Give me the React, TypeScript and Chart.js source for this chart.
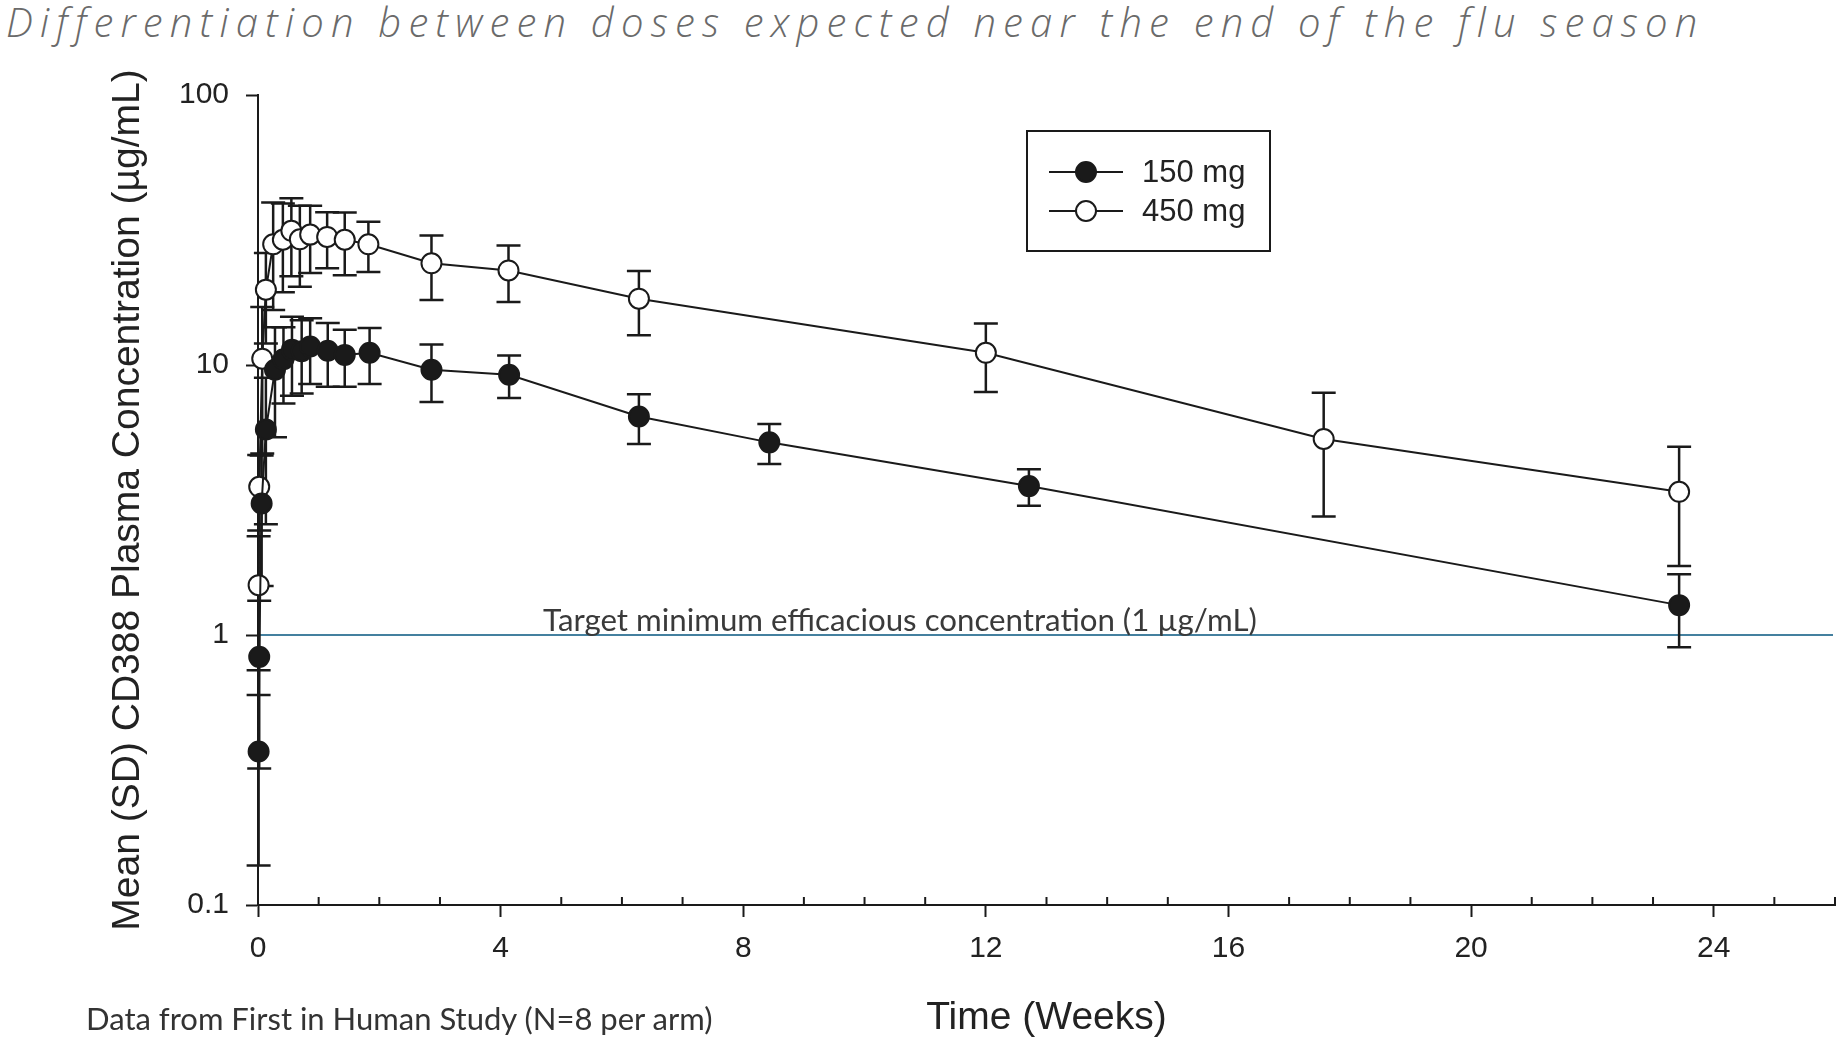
import React, { useEffect, useRef } from "react";
import { Chart, registerables } from "chart.js";

Chart.register(...registerables);

// ---- data ----
const weeks150 = [0.01, 0.02, 0.06, 0.13, 0.28, 0.42, 0.56, 0.72, 0.86, 1.15, 1.43, 1.84, 2.86, 4.14, 6.28, 8.43, 12.71, 23.43];
const mean150 = [0.37, 0.83, 3.07, 5.77, 9.6, 10.5, 11.4, 11.25, 11.7, 11.3, 10.9, 11.1, 9.6, 9.2, 6.45, 5.17, 3.56, 1.29];
const sd150 = [0.23, 0.51, 1.55, 3.2, 4.2, 3.3, 3.7, 3.4, 3.2, 3.0, 2.6, 2.6, 2.3, 1.65, 1.35, 0.87, 0.55, 0.39];

const weeks450 = [0.01, 0.02, 0.07, 0.13, 0.25, 0.41, 0.55, 0.69, 0.86, 1.14, 1.43, 1.82, 2.86, 4.13, 6.28, 12.0, 17.57, 23.43];
const mean450 = [1.53, 3.54, 10.55, 19.0, 28.0, 29.1, 31.4, 29.2, 30.4, 29.8, 29.1, 28.0, 23.8, 22.4, 17.6, 11.1, 5.32, 3.39];
const sd450 = [0.79, 1.1, 5.85, 7.0, 12.0, 10.5, 10.1, 9.7, 8.5, 7.0, 7.6, 5.9, 6.4, 5.3, 4.7, 3.15, 2.57, 1.59];

const seriesLabels = ["150 mg", "450 mg"];
const yTickValues = [0.1, 1, 10, 100];
const yTickLabels = ["0.1", "1", "10", "100"];
const xMajorEvery = 4;
const xMin = 0;
const xMax = 26;
const targetConc = 1;
const targetLabel = "Target minimum efficacious concentration (1 µg/mL)";
const titleText = "Differentiation between doses expected near the end of the flu season";
const footText = "Data from First in Human Study (N=8 per arm)";
const yTitle = "Mean (SD) CD388 Plasma Concentration (µg/mL)";
const xTitle = "Time (Weeks)";

const INK = "#1a1a1a";

const errorBarPlugin = {
  id: "errorBars",
  beforeDatasetsDraw(chart: any) {
    const { ctx, scales, chartArea } = chart;
    const xs = scales.x;
    const ys = scales.y;
    // target line + label
    const yT = ys.getPixelForValue(targetConc);
    ctx.save();
    ctx.strokeStyle = "#44809f";
    ctx.lineWidth = 2;
    ctx.beginPath();
    ctx.moveTo(chartArea.left, yT);
    ctx.lineTo(chartArea.right - 2, yT);
    ctx.stroke();
    let fs = 29;
    ctx.font = `${fs}px Lato, "Open Sans", sans-serif`;
    const w = ctx.measureText(targetLabel).width;
    fs = (fs * 714) / w;
    ctx.font = `${fs}px Lato, "Open Sans", sans-serif`;
    ctx.fillStyle = "#3a3a3a";
    ctx.textBaseline = "alphabetic";
    ctx.textAlign = "left";
    ctx.fillText(targetLabel, 543, yT - 4);
    ctx.restore();

    chart.data.datasets.forEach((ds: any, i: number) => {
      const meta = chart.getDatasetMeta(i);
      if (meta.hidden) return;
      ctx.save();
      ctx.strokeStyle = INK;
      ctx.lineWidth = 2.5;
      ds.data.forEach((p: any, j: number) => {
        const sd = ds.sd[j];
        const x = xs.getPixelForValue(p.x);
        const yTop = ys.getPixelForValue(p.y + sd);
        const yBot = ys.getPixelForValue(Math.max(p.y - sd, 0.0001));
        ctx.beginPath();
        ctx.moveTo(x, yTop);
        ctx.lineTo(x, yBot);
        ctx.moveTo(x - 12, yTop);
        ctx.lineTo(x + 12, yTop);
        ctx.moveTo(x - 12, yBot);
        ctx.lineTo(x + 12, yBot);
        ctx.stroke();
      });
      ctx.restore();
    });
  },
  afterDraw(chart: any) {
    const { ctx, scales } = chart;
    const xs = scales.x;
    const bottom = chart.chartArea.bottom;
    // inward minor ticks
    ctx.save();
    ctx.strokeStyle = INK;
    ctx.lineWidth = 2;
    for (let t = xMin + 1; t < xMax + 1; t++) {
      if (t % xMajorEvery === 0) continue;
      const x = xs.getPixelForValue(t);
      ctx.beginPath();
      ctx.moveTo(x, bottom);
      ctx.lineTo(x, bottom - 8);
      ctx.stroke();
    }
    // legend
    const bx = 1027, by = 131, bw = 243, bh = 120;
    ctx.lineWidth = 2;
    ctx.strokeRect(bx, by, bw, bh);
    const rows = [172, 211];
    chart.data.datasets.forEach((ds: any, i: number) => {
      const y = rows[i];
      ctx.beginPath();
      ctx.moveTo(1049, y);
      ctx.lineTo(1123, y);
      ctx.stroke();
      ctx.beginPath();
      ctx.arc(1086, y, 10, 0, Math.PI * 2);
      ctx.fillStyle = ds.pointBackgroundColor;
      ctx.fill();
      ctx.stroke();
      ctx.fillStyle = "#222";
      ctx.font = `31px "Liberation Sans", Arial, sans-serif`;
      ctx.textBaseline = "middle";
      ctx.textAlign = "left";
      ctx.fillText(ds.label, 1142, y + 1);
    });
    ctx.restore();
  },
};

export default function App() {
  const ref = useRef<HTMLCanvasElement | null>(null);

  useEffect(() => {
    if (!ref.current) return;
    const mk = (w: number[], m: number[]) => w.map((x, i) => ({ x, y: m[i] }));
    const chart = new Chart(ref.current, {
      type: "line",
      data: {
        datasets: [
          {
            label: seriesLabels[0],
            data: mk(weeks150, mean150),
            sd: sd150,
            borderColor: INK,
            borderWidth: 2,
            pointRadius: 10,
            pointBackgroundColor: INK,
            pointBorderColor: INK,
            pointBorderWidth: 2,
            tension: 0,
            clip: false,
          } as any,
          {
            label: seriesLabels[1],
            data: mk(weeks450, mean450),
            sd: sd450,
            borderColor: INK,
            borderWidth: 2,
            pointRadius: 10,
            pointBackgroundColor: "#ffffff",
            pointBorderColor: INK,
            pointBorderWidth: 2,
            tension: 0,
            clip: false,
          } as any,
        ],
      },
      options: {
        responsive: false,
        animation: false,
        devicePixelRatio: 1,
        layout: { autoPadding: false, padding: { top: 95, right: 7, left: 0, bottom: 0 } },
        plugins: {
          legend: { display: false },
          tooltip: { enabled: false },
        },
        scales: {
          x: {
            type: "linear",
            min: xMin,
            max: xMax,
            afterFit: (s: any) => {
              s.height = 139;
              s.paddingLeft = 0;
              s.paddingRight = 0;
            },
            ticks: {
              stepSize: 1,
              autoSkip: false,
              maxRotation: 0,
              padding: 14,
              color: "#222",
              font: { size: 30, family: '"Liberation Sans", Arial, sans-serif' },
              callback: (v: any) => (Number(v) % xMajorEvery === 0 ? String(v) : ""),
            },
            grid: {
              drawOnChartArea: false,
              drawTicks: true,
              tickLength: 12,
              tickWidth: 2,
              tickColor: (c: any) =>
                c.tick && c.tick.value % xMajorEvery === 0 ? INK : "rgba(0,0,0,0)",
            },
            border: { display: true, color: INK, width: 2 },
            title: {
              display: true,
              text: xTitle,
              color: "#222",
              font: { size: 39, family: '"Liberation Sans", Arial, sans-serif' },
              padding: { top: 0, bottom: 2 },
            },
          },
          y: {
            type: "logarithmic",
            min: yTickValues[0],
            max: yTickValues[yTickValues.length - 1],
            afterFit: (s: any) => {
              s.width = 258;
            },
            afterBuildTicks: (s: any) => {
              s.ticks = yTickValues.map((v) => ({ value: v }));
            },
            ticks: {
              padding: 17,
              color: "#222",
              font: { size: 30, family: '"Liberation Sans", Arial, sans-serif' },
              callback: (v: any) => {
                const k = yTickValues.indexOf(Number(v));
                return k >= 0 ? yTickLabels[k] : "";
              },
            },
            grid: {
              drawOnChartArea: false,
              drawTicks: true,
              tickLength: 12,
              tickWidth: 2,
              tickColor: INK,
            },
            border: { display: true, color: INK, width: 2 },
            title: {
              display: true,
              text: yTitle,
              color: "#222",
              font: { size: 39, family: '"Liberation Sans", Arial, sans-serif' },
              padding: { top: 105, bottom: 0 },
            },
          },
        },
      },
      plugins: [errorBarPlugin],
    });
    return () => chart.destroy();
  }, []);

  return (
    <div
      style={{
        position: "fixed",
        left: 0,
        top: 0,
        width: 1842,
        height: 1044,
        background: "#ffffff",
        overflow: "hidden",
      }}
    >
      <div
        style={{
          position: "absolute",
          left: 6,
          top: -2,
          height: 48,
          lineHeight: "48px",
          fontFamily: '"Open Sans", sans-serif',
          fontStyle: "italic",
          fontWeight: 300,
          fontSize: 40,
          letterSpacing: "7.2px",
          color: "#6a6a6a",
          whiteSpace: "nowrap",
        }}
      >
        {titleText}
      </div>
      <canvas
        ref={ref}
        width={1842}
        height={1044}
        style={{ position: "absolute", left: 0, top: 0, width: 1842, height: 1044 }}
      />
      <div
        style={{
          position: "absolute",
          left: 86,
          top: 999,
          height: 38,
          lineHeight: "38px",
          fontFamily: 'Lato, "Open Sans", sans-serif',
          fontSize: 31,
          color: "#333",
          whiteSpace: "nowrap",
        }}
      >
        {footText}
      </div>
    </div>
  );
}
